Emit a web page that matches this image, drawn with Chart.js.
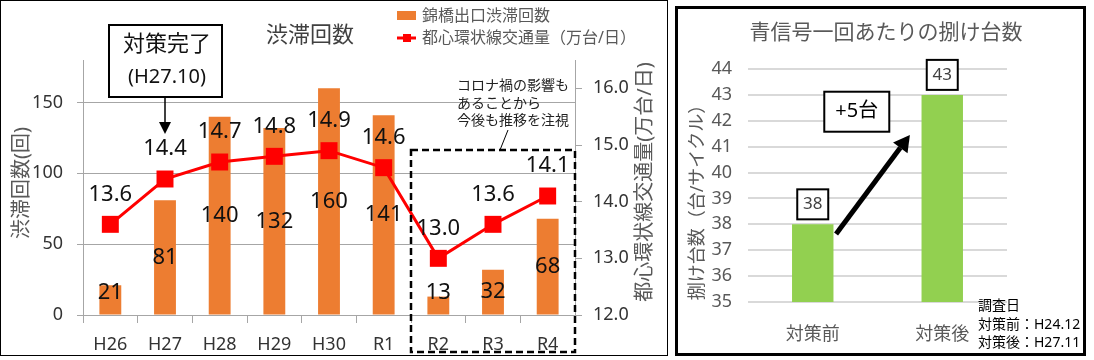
<!DOCTYPE html>
<html>
<head>
<meta charset="utf-8">
<script src="https://cdn.jsdelivr.net/npm/chart.js@4"></script>
<style>
  body { margin: 0; background: #fff; width: 1094px; height: 360px; position: relative; overflow: hidden; }
  #jamChart { position: absolute; left: 0; top: 0; }
  #carChart { position: absolute; left: 675px; top: 6px; }
</style>
</head>
<body>
<canvas id="jamChart" width="668" height="356"></canvas>
<canvas id="carChart" width="411" height="350"></canvas>
<script>
// left chart
const years = ["H26", "H27", "H28", "H29", "H30", "R1", "R2", "R3", "R4"];
const jamCounts = [21, 81, 140, 132, 160, 141, 13, 32, 68];
const traffic = [13.6, 14.4, 14.7, 14.8, 14.9, 14.6, 13.0, 13.6, 14.1];
// right chart
const phases = ["対策前", "対策後"];
const carsPerGreen = [38, 43];

const FONT = "'Noto Sans', 'Noto Sans CJK JP', sans-serif";
Chart.defaults.font.family = FONT;

function font(size) { return size + "px " + FONT; }

function arrow(ctx, x1, y1, x2, y2, width, head, half) {
    const a = Math.atan2(y2 - y1, x2 - x1);
    const bx = x2 - head * Math.cos(a), by = y2 - head * Math.sin(a);
    ctx.lineWidth = width;
    ctx.beginPath();
    ctx.moveTo(x1, y1);
    ctx.lineTo(bx, by);
    ctx.stroke();
    ctx.beginPath();
    ctx.moveTo(x2, y2);
    ctx.lineTo(bx + half * Math.sin(a), by - half * Math.cos(a));
    ctx.lineTo(bx - half * Math.sin(a), by + half * Math.cos(a));
    ctx.closePath();
    ctx.fill();
}

const jamDecor = {
    id: "jamDecor",
    afterDatasetsDraw(chart) {
        const ctx = chart.ctx;
        ctx.save();
        ctx.font = font(22);
        ctx.fillStyle = "#111";
        ctx.textAlign = "center";
        ctx.textBaseline = "middle";
        chart.getDatasetMeta(1).data.forEach((el, i) => {
            const y = Math.min((el.y + el.base) / 2, el.base - 22);
            ctx.fillText(jamCounts[i], el.x, y);
        });
        chart.getDatasetMeta(0).data.forEach((el, i) => {
            ctx.fillText(traffic[i].toFixed(1), el.x, el.y - 30);
        });
        ctx.restore();
    },
    afterDraw(chart) {
        const ctx = chart.ctx;
        const x = chart.scales.x;
        const area = chart.chartArea;
        ctx.save();
        // frame
        ctx.strokeStyle = "#000";
        ctx.lineWidth = 1;
        ctx.strokeRect(0.5, 0.5, chart.width - 1, chart.height - 1);

        // title
        ctx.fillStyle = "#404040";
        ctx.font = font(22);
        ctx.textAlign = "center";
        ctx.textBaseline = "middle";
        ctx.fillText("渋滞回数", 310, 36);

        // legend
        ctx.fillStyle = "#ed7d31";
        ctx.fillRect(397, 11, 19, 9);
        ctx.strokeStyle = "#ff0000";
        ctx.lineWidth = 3;
        ctx.beginPath();
        ctx.moveTo(397, 38);
        ctx.lineTo(416, 38);
        ctx.stroke();
        ctx.fillStyle = "#ff0000";
        ctx.fillRect(403, 34, 8, 8);
        ctx.fillStyle = "#595959";
        ctx.font = font(16);
        ctx.textAlign = "left";
        ctx.fillText("錦橋出口渋滞回数", 422, 16);
        ctx.fillText("都心環状線交通量（万台/日）", 422, 38);

        // axis titles
        ctx.textAlign = "center";
        ctx.font = font(20);
        ctx.save();
        ctx.translate(22, 183);
        ctx.rotate(-Math.PI / 2);
        ctx.fillText("渋滞回数(回)", 0, 0);
        ctx.restore();
        ctx.save();
        ctx.translate(645, 182);
        ctx.rotate(-Math.PI / 2);
        ctx.fillText("都心環状線交通量(万台/日)", 0, 0);
        ctx.restore();

        // callout
        const cx = x.getPixelForValue(1);
        ctx.strokeStyle = "#000";
        ctx.lineWidth = 2;
        ctx.fillStyle = "#fff";
        ctx.fillRect(cx - 56, 25, 113, 72);
        ctx.strokeRect(cx - 56, 25, 113, 72);
        ctx.fillStyle = "#111";
        ctx.font = font(22);
        ctx.fillText("対策完了", cx + 2, 45);
        ctx.font = font(20);
        ctx.fillText("(H27.10)", cx + 2, 77);
        ctx.fillStyle = "#000";
        arrow(ctx, cx, 98, cx, 134, 1.5, 12, 6);

        // dashed box around R2-R4
        const left = (x.getPixelForValue(5) + x.getPixelForValue(6)) / 2;
        ctx.setLineDash([7, 4]);
        ctx.lineWidth = 2.5;
        ctx.strokeRect(left, 150, area.right - left, 202);
        ctx.setLineDash([]);

        // note
        ctx.lineWidth = 1;
        ctx.beginPath();
        ctx.moveTo(508, 130);
        ctx.lineTo(500, 150);
        ctx.stroke();
        ctx.font = font(14);
        ctx.textAlign = "left";
        ctx.fillStyle = "#222";
        ctx.fillText("コロナ禍の影響も", 457, 86);
        ctx.fillText("あることから", 457, 104);
        ctx.fillText("今後も推移を注視", 457, 121);
        ctx.restore();
    },
};

new Chart(document.getElementById("jamChart"), {
    type: "bar",
    data: {
        labels: years,
        datasets: [
            {
                type: "line",
                label: "都心環状線交通量（万台/日）",
                data: traffic,
                yAxisID: "y1",
                order: 0,
                borderColor: "#ff0000",
                backgroundColor: "#ff0000",
                borderWidth: 3,
                pointStyle: "rect",
                pointRadius: 12,
                pointBorderWidth: 0,
                tension: 0,
            },
            {
                label: "錦橋出口渋滞回数",
                data: jamCounts,
                yAxisID: "y",
                order: 1,
                backgroundColor: "#ed7d31",
                barPercentage: 0.4,
                categoryPercentage: 1,
            },
        ],
    },
    options: {
        responsive: false,
        animation: false,
        devicePixelRatio: 1,
        layout: { padding: { top: 60, left: 0, right: 0, bottom: 0 } },
        plugins: { legend: { display: false }, tooltip: { enabled: false } },
        scales: {
            x: {
                grid: { offset: true, drawOnChartArea: false, color: "#a6a6a6", tickLength: 8 },
                border: { color: "#a6a6a6" },
                ticks: { color: "#333", font: { size: 18 }, padding: 11, maxRotation: 0 },
                afterFit: (s) => { s.height = 41; },
            },
            y: {
                position: "left",
                min: 0,
                max: 180,
                ticks: { stepSize: 50, color: "#333", font: { size: 18 }, padding: 14 },
                grid: { color: "#a6a6a6", tickLength: 6 },
                border: { color: "#a6a6a6" },
                afterBuildTicks: (s) => { s.ticks = s.ticks.filter((t) => t.value % 50 === 0); },
                afterFit: (s) => { s.width = 83; },
            },
            y1: {
                position: "right",
                min: 12,
                max: 16.5,
                ticks: { stepSize: 1, color: "#333", font: { size: 18 }, padding: 11, callback: (v) => v.toFixed(1) },
                grid: { drawOnChartArea: false, color: "#a6a6a6", tickLength: 7 },
                border: { color: "#a6a6a6" },
                afterBuildTicks: (s) => { s.ticks = s.ticks.filter((t) => Number.isInteger(t.value)); },
                afterFit: (s) => { s.width = 93; },
            },
        },
    },
    plugins: [jamDecor],
});

const carDecor = {
    id: "carDecor",
    afterDraw(chart) {
        const ctx = chart.ctx;
        const x = chart.scales.x, y = chart.scales.y;
        ctx.save();
        ctx.strokeStyle = "#000";
        ctx.lineWidth = 3;
        ctx.strokeRect(1.5, 1.5, chart.width - 3, chart.height - 3);

        ctx.textAlign = "center";
        ctx.textBaseline = "middle";
        ctx.fillStyle = "#595959";
        ctx.font = font(21);
        ctx.fillText("青信号一回あたりの捌け台数", 211, 27);
        ctx.font = font(18);
        ctx.save();
        ctx.translate(23, 192);
        ctx.rotate(-Math.PI / 2);
        ctx.fillText("捌け台数（台/サイクル）", 0, 0);
        ctx.restore();

        // value boxes
        ctx.lineWidth = 2;
        chart.getDatasetMeta(0).data.forEach((el, i) => {
            const bottom = el.y - 5;
            ctx.fillStyle = "#fff";
            ctx.fillRect(el.x - 15.5, bottom - 30, 31, 30);
            ctx.strokeRect(el.x - 15.5, bottom - 30, 31, 30);
            ctx.fillStyle = "#404040";
            ctx.font = font(17);
            ctx.fillText(carsPerGreen[i], el.x, bottom - 15);
        });

        // +5 callout and arrow
        const x0 = x.getPixelForValue(0), d = x.getPixelForValue(1) - x0;
        const bx = x0 + 0.34 * d, by = y.getPixelForValue(42.35);
        ctx.fillStyle = "#fff";
        ctx.fillRect(bx - 32.5, by - 20, 65, 40);
        ctx.strokeRect(bx - 32.5, by - 20, 65, 40);
        ctx.fillStyle = "#000";
        ctx.font = font(20);
        ctx.fillText("+" + (carsPerGreen[1] - carsPerGreen[0]) + "台", bx, by);
        arrow(ctx, x0 + 0.18 * d, y.getPixelForValue(37.63), x0 + 0.75 * d, y.getPixelForValue(41.45), 5, 16, 9);

        // survey dates
        ctx.font = font(14);
        ctx.textAlign = "left";
        ctx.fillStyle = "#000";
        ctx.fillText("調査日", 303, 300);
        ctx.fillText("対策前：H24.12", 303, 319);
        ctx.fillText("対策後：H27.11", 303, 337);
        ctx.restore();
    },
};

new Chart(document.getElementById("carChart"), {
    type: "bar",
    data: {
        labels: phases,
        datasets: [
            {
                label: "捌け台数",
                data: carsPerGreen,
                backgroundColor: "#92d050",
                barPercentage: 0.32,
                categoryPercentage: 1,
            },
        ],
    },
    options: {
        responsive: false,
        animation: false,
        devicePixelRatio: 1,
        layout: { padding: { top: 63, left: 0, right: 79, bottom: 0 } },
        plugins: { legend: { display: false }, tooltip: { enabled: false } },
        scales: {
            x: {
                grid: { display: false },
                border: { display: false },
                ticks: { color: "#595959", font: { size: 18 }, padding: 14 },
                afterFit: (s) => { s.height = 54; },
            },
            y: {
                min: 35,
                max: 44,
                ticks: { stepSize: 1, color: "#595959", font: { size: 18 }, padding: 16 },
                grid: { color: "#d9d9d9", lineWidth: 2, drawTicks: false },
                border: { display: false },
                afterFit: (s) => { s.width = 73; },
            },
        },
    },
    plugins: [carDecor],
});
</script>
</body>
</html>
